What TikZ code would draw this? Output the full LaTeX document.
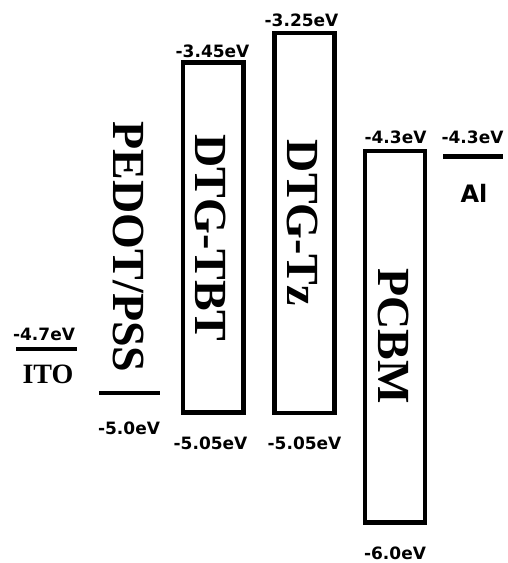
\documentclass[tikz,border=0pt]{standalone}
\usepackage{fontspec}
\setmainfont{Liberation Serif}
\newfontfamily\evfont{DejaVu Sans}
\begin{document}
\begin{tikzpicture}[x=1pt,y=-1pt,
  level/.style={line width=4.5pt},
  band/.style={draw,line width=4.2pt},
  ev/.style={inner sep=0pt,font=\evfont\bfseries\fontsize{17}{17}\selectfont},
  big/.style={inner sep=0pt,rotate=-90,anchor=base,font=\bfseries\fontsize{46}{46}\selectfont},
  elec/.style={inner sep=0pt}]
\useasboundingbox (0,0) rectangle (507,563);
% ITO
\coordinate (itoL) at (16,349);
\coordinate (itoR) at (77,349);
\draw[level] (itoL) -- (itoR);
\node[ev] (itoE) at (44,334) {-4.7eV};
\node[elec,font=\bfseries\fontsize{28}{28}\selectfont] (ito) at (48,374) {ITO};
% PEDOT/PSS
\coordinate (pedL) at (99,393);
\coordinate (pedR) at (160,393);
\draw[level] (pedL) -- (pedR);
\node[big] (ped) at (113,247) {PEDOT/PSS};
\node[ev] (pedE) at (129,428) {-5.0eV};
% DTG-TBT
\node[band,minimum width=60.5pt,minimum height=350pt,inner sep=0pt] (tbt) at (213.25,237.5) {};
\node[big] (tbtT) at (195,238) {DTG-TBT};
\node[ev] (tbtU) at (212.5,51) {-3.45eV};
\node[ev] (tbtD) at (210.5,443.5) {-5.05eV};
% DTG-Tz
\node[band,minimum width=60pt,minimum height=380pt,inner sep=0pt] (tz) at (304.5,223) {};
\node[big] (tzT) at (287,223) {DTG-Tz};
\node[ev] (tzU) at (301.5,20) {-3.25eV};
\node[ev] (tzD) at (304.5,443.5) {-5.05eV};
% PCBM
\node[band,minimum width=60pt,minimum height=371.5pt,inner sep=0pt] (pcbm) at (395,336.75) {};
\node[big] (pcbmT) at (378,336) {PCBM};
\node[ev] (pcbmU) at (395.5,137) {-4.3eV};
\node[ev] (pcbmD) at (395,553) {-6.0eV};
% Al
\coordinate (alL) at (443,156.5);
\coordinate (alR) at (503,156.5);
\draw[level] (alL) -- (alR);
\node[ev] (alE) at (472.5,137) {-4.3eV};
\node[elec,font=\evfont\bfseries\fontsize{24}{24}\selectfont] (al) at (474,193.5) {Al};
\end{tikzpicture}
\end{document}
